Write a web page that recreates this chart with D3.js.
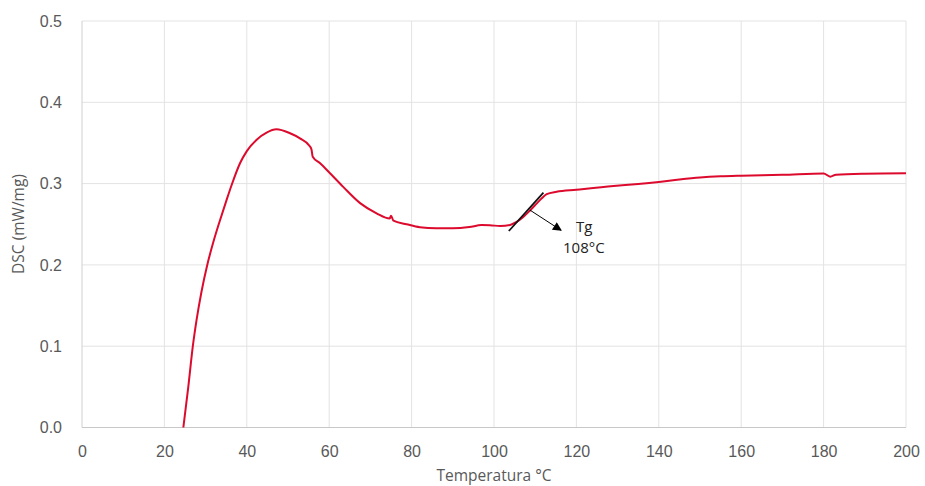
<!DOCTYPE html>
<html>
<head>
<meta charset="utf-8">
<script src="https://cdn.jsdelivr.net/npm/d3@7"></script>
<style>
  html, body { margin: 0; padding: 0; background: #fff; }
  svg { display: block; font-family: "Open Sans", "Noto Sans", sans-serif; }
</style>
</head>
<body>
<svg id="chart" width="925" height="486"></svg>
<script>
// DSC thermogram: heat flow vs temperature
const temperature = [24.6, 25.8, 26.9, 27.8, 29.0, 30.4, 31.9, 33.5, 35.1, 36.3, 38.35, 40, 42.4, 44.8, 47.2, 50.5, 52.9, 55.3, 55.7, 56.0, 57.8, 60.2, 63.4, 67.5, 71.5, 74.7, 75.0, 75.6, 78.8, 82, 86, 90, 94, 97, 99, 101.5, 103.9, 105.5, 107.1, 108.7, 110.4, 111.6, 112.8, 115.2, 120, 129, 135, 140, 145, 150, 155, 160, 170, 180, 181.6, 183, 190, 200];
const dsc = [0.0, 0.05, 0.1, 0.132, 0.167, 0.2, 0.2285, 0.255, 0.28, 0.298, 0.325, 0.34, 0.354, 0.3627, 0.3668, 0.3619, 0.3557, 0.346, 0.342, 0.333, 0.325, 0.3127, 0.296, 0.276, 0.2635, 0.257, 0.2605, 0.2544, 0.25, 0.2463, 0.245, 0.245, 0.2465, 0.249, 0.2488, 0.2478, 0.249, 0.253, 0.259, 0.2667, 0.2757, 0.282, 0.287, 0.29, 0.2925, 0.297, 0.2995, 0.302, 0.305, 0.3075, 0.309, 0.3098, 0.3108, 0.3125, 0.3085, 0.311, 0.3122, 0.3127];

// Glass-transition tangent and annotation
const tangentT = [103.6, 112];
const tangentV = [0.2417, 0.2888];
const arrowT = [108.7, 116.3];
const arrowV = [0.2675, 0.2425];
const tgLabels = ["Tg", "108°C"];

const xTicks = [0, 20, 40, 60, 80, 100, 120, 140, 160, 180, 200];
const yTicks = [0.0, 0.1, 0.2, 0.3, 0.4, 0.5];

const margin = { left: 82, right: 19, top: 21, bottom: 58.5 };
const W = 925, H = 486;
const svg = d3.select("#chart");

const x = d3.scaleLinear().domain([0, 200]).range([margin.left, W - margin.right]);
const y = d3.scaleLinear().domain([0, 0.5]).range([H - margin.bottom, margin.top]);

// Gridlines
const grid = svg.append("g");
grid.selectAll("line.v").data(xTicks.slice(1)).join("line")
  .attr("x1", d => x(d)).attr("x2", d => x(d))
  .attr("y1", y(0)).attr("y2", y(0.5))
  .attr("stroke", "#e3e3e3").attr("stroke-width", 1);
grid.selectAll("line.h").data(yTicks.slice(1)).join("line")
  .attr("x1", x(0)).attr("x2", x(200))
  .attr("y1", d => y(d)).attr("y2", d => y(d))
  .attr("stroke", "#e3e3e3").attr("stroke-width", 1);

// Axis lines
svg.append("line").attr("x1", x(0)).attr("x2", x(0)).attr("y1", y(0)).attr("y2", y(0.5))
  .attr("stroke", "#d0d0d0");
svg.append("line").attr("x1", x(0)).attr("x2", x(200)).attr("y1", y(0)).attr("y2", y(0))
  .attr("stroke", "#c8c8c8");

// Tick labels via d3 axes
const xAxis = d3.axisBottom(x).tickValues(xTicks).tickSize(0).tickPadding(18).tickFormat(d3.format("d"));
const gx = svg.append("g").attr("transform", `translate(0,${y(0)})`).call(xAxis);
gx.select(".domain").remove();
gx.selectAll("text").attr("fill", "#595959").style("font-size", "16px").style("font-family", "inherit");

const yAxis = d3.axisLeft(y).tickValues(yTicks).tickSize(0).tickPadding(20).tickFormat(d3.format(".1f"));
const gy = svg.append("g").attr("transform", `translate(${x(0)},0)`).call(yAxis);
gy.select(".domain").remove();
gy.selectAll("text").attr("fill", "#595959").style("font-size", "16px").style("font-family", "inherit");

// Axis titles
svg.append("text").attr("x", 494).attr("y", 481)
  .attr("text-anchor", "middle").attr("fill", "#595959").style("font-size", "15.5px")
  .text("Temperatura °C");
svg.append("text").attr("transform", `translate(24,224) rotate(-90)`)
  .attr("text-anchor", "middle").attr("fill", "#595959").style("font-size", "15.5px")
  .text("DSC (mW/mg)");

// DSC curve
const pts = temperature.map((t, i) => [t, dsc[i]]);
const line = d3.line().x(d => x(d[0])).y(d => y(d[1])).curve(d3.curveMonotoneX);
svg.append("path").datum(pts).attr("d", line)
  .attr("fill", "none").attr("stroke", "#dc0a2d").attr("stroke-width", 2)
  .attr("stroke-linejoin", "round");

// Tangent line
svg.append("line")
  .attr("x1", x(tangentT[0])).attr("y1", y(tangentV[0]))
  .attr("x2", x(tangentT[1])).attr("y2", y(tangentV[1]))
  .attr("stroke", "#111").attr("stroke-width", 1.8);

// Arrow
svg.append("defs").append("marker").attr("id", "arrowhead")
  .attr("viewBox", "0 0 10 10").attr("refX", 9).attr("refY", 5)
  .attr("markerWidth", 11).attr("markerHeight", 9).attr("markerUnits", "userSpaceOnUse")
  .attr("orient", "auto")
  .append("path").attr("d", "M0,0 L10,5 L0,10 Z").attr("fill", "#000");
svg.append("line")
  .attr("x1", x(arrowT[0])).attr("y1", y(arrowV[0]))
  .attr("x2", x(arrowT[1])).attr("y2", y(arrowV[1]))
  .attr("stroke", "#000").attr("stroke-width", 1)
  .attr("marker-end", "url(#arrowhead)");

// Annotation text
svg.append("text").attr("x", 576).attr("y", 232).attr("fill", "#222").style("font-size", "15px").text(tgLabels[0]);
svg.append("text").attr("x", 563).attr("y", 253).attr("fill", "#222").style("font-size", "15px").text(tgLabels[1]);
</script>
</body>
</html>
